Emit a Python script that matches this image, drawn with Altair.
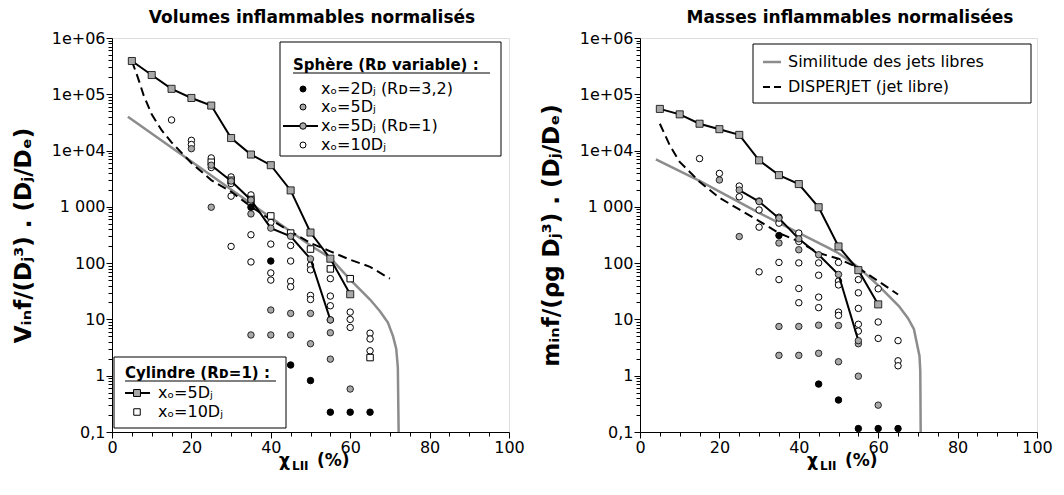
import altair as alt
import pandas as pd

FONT = "DejaVu Sans"
W, H = 397, 394
GRAY_FILL = "#a8a8a8"
SIM_COLOR = "#8c8c8c"
DY = -2  # legend vertical shift (plot top sits 2px lower than reference)

# ---------------- axis ticks ----------------
x_ticks = [0, 5, 10, 15, 20, 25, 30, 35, 40, 45, 50, 55, 60, 65, 70, 75, 80, 85, 90, 95, 100]
y_major = [0.1, 1, 10, 100, 1000, 10000, 100000, 1000000]
y_major_labels = ["0,1", "1", "10", "100", "1 000", "1e+04", "1e+05", "1e+06"]
y_minor_mult = [2, 3, 4, 5, 6, 7, 8, 9]

# ---------------- left panel : volumes ----------------
vol_sim_x = [4, 16.6, 30, 45, 50, 55, 60, 65, 67.5, 69.5, 70.8, 71.6, 72.0, 72.2]
vol_sim_y = [40000, 9400, 2030, 365, 206, 124, 51, 22.6, 14, 8.8, 5.0, 3.0, 1.4, 0.1]

vol_dash_x = [5, 6.5, 8, 10, 12.5, 15, 20, 25, 30, 35, 40, 45, 50, 55, 60, 65, 70]
vol_dash_y = [390000, 200000, 95000, 44000, 23000, 14000, 6000, 2990, 1860, 1010, 587, 365, 228, 162, 115, 86, 53]

vol_sq_x = [5, 10, 15, 20, 25, 30, 35, 40, 45, 50, 55, 60]
vol_sq_y = [390000, 220000, 125000, 86000, 63000, 16700, 8500, 5500, 1960, 350, 120, 28]

vol_gc_x = [25, 30, 35, 40, 45, 50, 55]
vol_gc_y = [5500, 2870, 1325, 419, 300, 119, 9.8]

vol_black_x = [35, 40, 45, 50, 55, 60, 65]
vol_black_y = [985, 109, 1.55, 0.82, 0.225, 0.225, 0.225]

vol_gray_x = [20, 25, 35, 35, 40, 40, 45, 45, 50, 50, 55, 55, 60]
vol_gray_y = [10800, 985, 750, 5.3, 14.7, 5.3, 12.8, 5.3, 12.8, 3.7, 5.8, 1.97, 0.58]

vol_white_x = [15, 20, 20, 25, 25, 30, 30, 30, 30, 35, 35, 35, 35, 40, 40, 40, 40,
               45, 45, 45, 45, 50, 50, 50, 50, 55, 55, 55, 55, 60, 60, 60, 65, 65, 65]
vol_white_y = [35000, 15200, 12800, 7400, 5000, 3400, 2600, 1550, 198, 1630, 1150, 319, 105,
               526, 218, 67, 50, 206, 109, 47.7, 38, 92, 76, 26.7, 22.6, 53, 26, 17.5, 9.8,
               13.5, 10, 7.2, 5.7, 4.5, 2.77]

vol_wsq_x = [25, 30, 35, 40, 45, 50, 55, 60, 65]
vol_wsq_y = [6200, 2970, 1350, 690, 342, 178, 79, 53, 2.1]

# ---------------- right panel : masses ----------------
mas_sim_x = [4, 15, 30, 47.6, 50, 55, 60.2, 65.2, 67.5, 69, 70.4, 70.6, 70.7]
mas_sim_y = [7000, 2900, 780, 185, 150, 85, 39, 17.3, 10.5, 6.7, 2.25, 1.2, 0.1]

mas_dash_x = [5, 7.5, 10, 15, 20, 25, 30, 35, 40, 45, 50, 55, 60, 65]
mas_dash_y = [30000, 12400, 6300, 2790, 1450, 900, 560, 342, 243, 151, 120, 82, 48, 27.7]

mas_sq_x = [5, 10, 15, 20, 25, 30, 35, 40, 45, 50, 55, 60]
mas_sq_y = [55000, 44000, 30000, 24000, 19000, 6700, 3660, 2540, 985, 198, 75, 18.5]

mas_gc_x = [25, 30, 35, 40, 45, 50, 55]
mas_gc_y = [1990, 1240, 630, 270, 141, 63, 4.2]

mas_black_x = [35, 45, 50, 55, 60, 65]
mas_black_y = [310, 0.71, 0.37, 0.115, 0.115, 0.115]

mas_gray_x = [20, 25, 35, 35, 35, 40, 40, 40, 45, 45, 50, 50, 55, 55, 60]
mas_gray_y = [3000, 297, 228, 7.5, 2.3, 173, 7.5, 2.3, 7.9, 2.5, 7.8, 1.77, 3.7, 0.98, 0.30]

mas_white_x = [15, 20, 25, 25, 30, 30, 30, 30, 35, 35, 35, 35, 40, 40, 40, 40, 40,
               45, 45, 45, 45, 50, 50, 50, 50, 50, 55, 55, 55, 55, 55, 60, 60, 60, 65, 65, 65]
mas_white_y = [7200, 3930, 2340, 1510, 1270, 880, 436, 70, 655, 513, 103, 51, 342, 243, 101,
               35.5, 19.8, 101, 61, 24.9, 16.2, 103, 48, 41, 13.5, 11.8, 51, 29.7, 15.7, 8.2,
               6.2, 35, 9.0, 4.6, 4.2, 1.84, 1.5]

# ---------------- helpers ----------------
y_ticks = [m * d for d in y_major[:-1] for m in [1] + y_minor_mult] + [y_major[-1]]

label_expr = " : ".join(
    f"datum.value == {v} ? '{lab}'" for v, lab in zip(y_major, y_major_labels)
) + " : ''"
major_list = "[" + ",".join(str(v) for v in y_major) + "]"


def frame(xs, ys):
    return pd.DataFrame({"x": xs, "y": ys, "o": list(range(len(xs)))})


def x_enc():
    return alt.X(
        "x:Q",
        scale=alt.Scale(domain=[0, 100], nice=False, zero=False),
        axis=alt.Axis(
            values=x_ticks, title=None, grid=False,
            labelExpr="datum.value % 20 == 0 ? datum.label : ''",
            labelFont=FONT, labelFontSize=16, labelColor="black",
            tickColor="black", domainColor="black",
            tickSize={"condition": {"test": "datum.value % 20 == 0", "value": 6}, "value": 4},
            labelPadding=1, labelOverlap=False, labelFlush=False,
        ),
    )


def y_enc(title):
    return alt.Y(
        "y:Q",
        scale=alt.Scale(type="log", domain=[0.1, 1000000], nice=False),
        axis=alt.Axis(
            values=y_ticks, title=title, grid=False,
            labelExpr=label_expr,
            labelFont=FONT, labelFontSize=16, labelColor="black",
            tickColor="black", domainColor="black",
            tickSize={"condition": {"test": f"indexof({major_list}, datum.value) >= 0", "value": 6}, "value": 4},
            labelPadding=1, labelOverlap=False, labelFlush=False,
            titleFont=FONT, titleFontSize=23, titleFontWeight="bold", titleColor="black",
            titlePadding=15, minExtent=62, maxExtent=62,
        ),
    )


def txt(s, x, y, size=16, bold=False, align="left", baseline="middle"):
    return alt.Chart().mark_text(
        text=s, font=FONT, fontSize=size, fontWeight="bold" if bold else "normal",
        align=align, baseline=baseline, color="black",
    ).encode(x=alt.value(x), y=alt.value(y))


def box(x1, x2, y1, y2):
    return alt.Chart().mark_rect(fill="white", stroke="black", strokeWidth=1).encode(
        x=alt.value(x1), x2=alt.value(x2), y=alt.value(y1 + DY), y2=alt.value(y2 + DY))


def hline(x1, x2, y, color="black", width=2, dash=None):
    kw = dict(color=color, strokeWidth=width)
    if dash:
        kw["strokeDash"] = dash
    return alt.Chart().mark_rule(**kw).encode(x=alt.value(x1), x2=alt.value(x2), y=alt.value(y + DY))


def sym(x, y, shape, fill, size=42):
    return alt.Chart().mark_point(shape=shape, filled=True, fill=fill, stroke="black",
                                  strokeWidth=1, size=size, opacity=1).encode(
        x=alt.value(x), y=alt.value(y + DY))


def ltxt(s, x, y, size=16, bold=False, baseline="middle"):
    return txt(s, x, y + DY, size, bold, baseline=baseline)


def panel(d, ytitle, title, title_x, legends):
    X = x_enc()
    Y = y_enc(ytitle)
    base = []
    base.append(alt.Chart(frame(d["sim_x"], d["sim_y"])).mark_line(
        color=SIM_COLOR, strokeWidth=2.5).encode(x=X, y=Y, order="o:Q"))
    base.append(alt.Chart(frame(d["dash_x"], d["dash_y"])).mark_line(
        color="black", strokeWidth=2, strokeDash=[9, 5]).encode(x=X, y=Y, order="o:Q"))
    base.append(alt.Chart(frame(d["white_x"], d["white_y"])).mark_point(
        shape="circle", filled=True, fill="white", stroke="black", strokeWidth=1, size=42,
        opacity=1).encode(x=X, y=Y))
    if d.get("wsq_x"):
        base.append(alt.Chart(frame(d["wsq_x"], d["wsq_y"])).mark_point(
            shape="square", filled=True, fill="white", stroke="black", strokeWidth=1, size=42,
            opacity=1).encode(x=X, y=Y))
    base.append(alt.Chart(frame(d["gray_x"], d["gray_y"])).mark_point(
        shape="circle", filled=True, fill=GRAY_FILL, stroke="black", strokeWidth=0.8, size=42,
        opacity=1).encode(x=X, y=Y))
    base.append(alt.Chart(frame(d["black_x"], d["black_y"])).mark_point(
        shape="circle", filled=True, fill="black", stroke="black", strokeWidth=1, size=42,
        opacity=1).encode(x=X, y=Y))
    for key in ["gc", "sq"]:
        fr = frame(d[key + "_x"], d[key + "_y"])
        base.append(alt.Chart(fr).mark_line(color="black", strokeWidth=2).encode(
            x=X, y=Y, order="o:Q"))
        base.append(alt.Chart(fr).mark_point(
            shape="circle" if key == "gc" else "square", filled=True, fill=GRAY_FILL,
            stroke="black", strokeWidth=0.8, size=42 if key == "gc" else 50,
            opacity=1).encode(x=X, y=Y))
    # panel title
    base.append(txt(title, title_x, -20, 17, True, align="center"))
    # x-axis title  chi_LII (%)
    base.append(txt("χ", 167, 428, 17, True, baseline="alphabetic"))
    base.append(txt("LII", 180, 432, 12, True, baseline="alphabetic"))
    base.append(txt("(%)", 205, 428, 17, True, baseline="alphabetic"))
    base += legends
    return alt.layer(*base).properties(width=W, height=H)


vol = dict(sim_x=vol_sim_x, sim_y=vol_sim_y, dash_x=vol_dash_x, dash_y=vol_dash_y,
           sq_x=vol_sq_x, sq_y=vol_sq_y, gc_x=vol_gc_x, gc_y=vol_gc_y,
           black_x=vol_black_x, black_y=vol_black_y, gray_x=vol_gray_x, gray_y=vol_gray_y,
           white_x=vol_white_x, white_y=vol_white_y, wsq_x=vol_wsq_x, wsq_y=vol_wsq_y)
mas = dict(sim_x=mas_sim_x, sim_y=mas_sim_y, dash_x=mas_dash_x, dash_y=mas_dash_y,
           sq_x=mas_sq_x, sq_y=mas_sq_y, gc_x=mas_gc_x, gc_y=mas_gc_y,
           black_x=mas_black_x, black_y=mas_black_y, gray_x=mas_gray_x, gray_y=mas_gray_y,
           white_x=mas_white_x, white_y=mas_white_y)

legend_left = [
    box(168, 389, 6, 120),
    ltxt("Sphère (Rᴅ variable) :", 181, 34, 15, True, baseline="alphabetic"),
    hline(181, 378, 37, width=1),
    sym(191, 53, "circle", "black", 36),
    ltxt("xₒ=2Dⱼ (Rᴅ=3,2)", 209, 53),
    sym(191, 71, "circle", GRAY_FILL, 36),
    ltxt("xₒ=5Dⱼ", 209, 71),
    hline(171, 206, 90),
    sym(191, 90, "circle", GRAY_FILL, 42),
    ltxt("xₒ=5Dⱼ (Rᴅ=1)", 209, 90),
    sym(191, 109, "circle", "white", 36),
    ltxt("xₒ=10Dⱼ", 209, 109),
    box(2, 174, 321, 392),
    ltxt("Cylindre (Rᴅ=1) :", 13, 342, 15, True, baseline="alphabetic"),
    hline(13, 164, 345, width=1),
    hline(13, 38, 357),
    sym(25, 357, "square", GRAY_FILL, 48),
    ltxt("xₒ=5Dⱼ", 46, 357),
    sym(25, 376, "square", "white", 42),
    ltxt("xₒ=10Dⱼ", 46, 376),
]

legend_right = [
    box(113, 391, 8, 67),
    hline(123, 141, 26, color=SIM_COLOR, width=2.5),
    ltxt("Similitude des jets libres", 148, 26),
    hline(123, 141, 51, dash=[7, 4]),
    ltxt("DISPERJET (jet libre)", 148, 51),
]

left = panel(vol, "Vᵢₙf/(Dⱼ³) . (Dⱼ/Dₑ)", "Volumes inflammables normalisés", 200, legend_left)
right = panel(mas, "mᵢₙf/(ρg Dⱼ³) . (Dⱼ/Dₑ)", "Masses inflammables normalisées", 210, legend_right)

chart = alt.hconcat(left, right, spacing=14).properties(
    padding={"left": 3, "top": 0, "right": 0, "bottom": 5}
).configure_view(stroke="black", strokeWidth=1).configure(font=FONT)

chart.save("out.html", embed_options={"renderer": "svg", "actions": False})
